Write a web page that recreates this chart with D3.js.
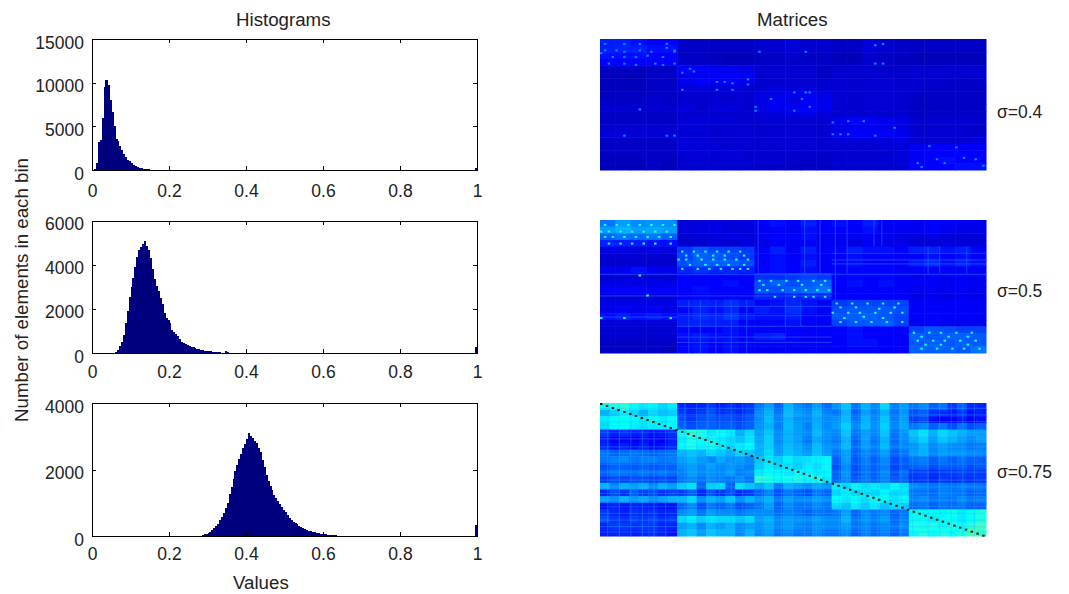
<!DOCTYPE html>
<html>
<head>
<meta charset="utf-8">
<script src="https://cdn.jsdelivr.net/npm/d3@7"></script>
<style>
  html, body { margin: 0; padding: 0; background: #fff; }
  svg { display: block; }
  text { font-family: "Liberation Sans", Arial, sans-serif; fill: #222; }
  .tick text { font-size: 17.5px; }
  .label { font-size: 18.7px; }
  .sigma { font-size: 17.5px; }
  .axis path, .axis line { stroke: #000; stroke-width: 1; fill: none; shape-rendering: crispEdges; }
</style>
</head>
<body>
<div id="chart"></div>
<script>
var xTicks = [0, 0.2, 0.4, 0.6, 0.8, 1];
var sigmaLabels = ["σ=0.4", "σ=0.5", "σ=0.75"];
var binWidth = 0.005;

// first bin edge and counts per bin
var hist1Start = 0.005;
var hist1Counts = [150, 800, 3200, 3400, 6000, 9500, 10300, 9700, 8000, 6600, 5000, 3600, 3300, 2800, 2300, 1800, 1500, 1200, 1000, 800, 600, 450, 350, 280, 200, 160, 120, 90, 70, 50, 30, 20];
var hist1Ticks = [0, 5000, 10000, 15000];
var hist1Max = 15000;
var hist1Last = 200;

var hist2Start = 0.055;
var hist2Counts = [20, 50, 130, 300, 480, 800, 1350, 1900, 2550, 3000, 3400, 3900, 4350, 4650, 4780, 4950, 5070, 4850, 4650, 4300, 3800, 3350, 3050, 2800, 2500, 2200, 1800, 1600, 1500, 1350, 1050, 950, 850, 780, 650, 520, 450, 400, 350, 310, 280, 250, 220, 190, 170, 150, 130, 110, 100, 80, 70, 60, 50, 45, 40, 30, 20, 20, 70, 60, 10];
var hist2Ticks = [0, 2000, 4000, 6000];
var hist2Max = 6000;
var hist2Last = 250;

var hist3Start = 0.285;
var hist3Counts = [30, 50, 75, 100, 120, 170, 230, 290, 370, 480, 570, 700, 850, 1000, 1250, 1480, 1720, 1950, 2130, 2320, 2480, 2640, 2780, 2920, 3100, 3020, 2950, 2860, 2790, 2660, 2540, 2300, 2080, 1830, 1650, 1500, 1370, 1240, 1150, 1050, 970, 880, 790, 710, 640, 550, 490, 430, 390, 350, 310, 280, 250, 220, 190, 160, 140, 125, 110, 95, 80, 70, 60, 55, 50, 40, 35, 30, 25, 20, 15];
var hist3Ticks = [0, 2000, 4000];
var hist3Max = 4000;
var hist3Last = 320;

// matrices, coarse reading of the image in hundredths of the jet range
var matrix1 = [
  [15,15,14,13,13, 7,7,7,7,7, 8,8,9,8,8, 7,7,9,8,7, 7,7,7,7,7],
  [15,16,15,14,14, 7,7,7,7,7, 8,8,9,8,8, 7,7,9,8,7, 7,7,7,7,7],
  [14,14,14,13,13, 7,7,6,6,6, 7,7,8,7,7, 6,6,8,7,7, 6,6,6,6,6],
  [13,13,12,12,12, 7,7,7,6,6, 7,7,7,7,7, 6,6,8,7,6, 6,6,6,6,6],
  [7,7,7,7,7, 13,12,11,11,10, 8,8,8,8,7, 8,8,8,7,7, 8,8,8,8,8],
  [6,6,6,7,7, 11,11,12,12,11, 8,8,8,8,7, 8,8,8,8,8, 8,8,8,8,8],
  [6,6,6,7,7, 11,12,12,13,11, 8,8,8,8,8, 8,8,8,8,8, 8,8,8,7,8],
  [6,6,6,7,7, 9,9,9,9,8, 8,9,9,9,8, 8,8,8,8,8, 8,7,7,7,7],
  [6,7,7,7,7, 8,8,8,8,8, 10,10,11,11,10, 8,8,8,8,8, 7,7,7,7,7],
  [7,7,7,8,7, 8,8,8,8,8, 10,11,10,12,11, 8,8,8,8,8, 7,7,7,7,7],
  [8,8,8,8,8, 9,8,9,9,8, 10,11,11,12,11, 8,8,8,8,8, 7,7,7,7,7],
  [7,7,7,7,7, 8,8,8,8,8, 9,9,10,10,9, 8,8,8,8,8, 7,7,7,7,7],
  [7,7,7,7,7, 9,9,9,9,8, 8,8,8,8,8, 11,12,12,11,10, 8,8,8,8,8],
  [8,8,8,8,8, 9,9,8,8,8, 8,8,8,8,8, 10,11,11,11,10, 8,8,8,8,7],
  [9,9,9,9,9, 8,8,8,8,8, 8,8,8,8,8, 11,12,12,12,11, 8,8,8,8,8],
  [7,7,7,7,7, 9,9,8,8,8, 8,8,8,8,8, 9,9,9,9,10, 8,8,8,8,9],
  [7,7,7,7,7, 9,9,9,8,8, 8,8,8,8,8, 8,8,8,9,9, 11,12,12,12,12],
  [7,7,7,7,7, 9,9,9,9,8, 8,8,8,8,8, 8,8,8,8,9, 12,12,13,13,12],
  [6,6,6,7,6, 8,8,8,8,8, 8,8,7,7,7, 8,8,8,8,9, 12,13,14,13,13],
  [6,6,6,7,6, 8,8,8,8,8, 7,7,7,7,7, 8,8,8,8,8, 13,13,13,14,14]
];

var matrix2 = [
  [24,28,26,27,26, 9,9,10,9,10, 12,14,12,15,12, 14,13,15,12,12, 11,13,12,11,11],
  [28,30,28,29,28, 9,9,10,9,9, 11,13,11,14,12, 12,12,14,11,11, 11,12,11,10,10],
  [22,24,23,24,22, 8,9,9,10,9, 11,13,12,14,11, 11,11,12,11,10, 9,10,9,9,9],
  [16,15,15,14,14, 8,8,9,8,9, 10,12,11,13,11, 11,10,12,10,10, 9,9,9,9,9],
  [10,10,9,10,9, 18,21,19,19,18, 12,15,12,15,12, 13,15,14,14,13, 15,16,14,15,13],
  [8,8,8,8,8, 19,22,21,20,18, 12,14,12,14,12, 12,14,13,13,12, 13,14,13,14,12],
  [8,8,8,8,8, 20,22,22,22,20, 12,14,13,15,12, 13,14,13,13,13, 15,17,14,16,14],
  [11,11,14,11,11, 16,17,16,16,15, 13,14,13,14,12, 12,13,13,13,12, 12,12,12,12,12],
  [8,9,8,9,8, 12,13,12,13,12, 17,17,18,19,18, 12,13,12,13,12, 11,12,11,12,11],
  [10,10,10,10,10, 13,13,13,14,13, 20,22,20,21,22, 13,14,13,14,12, 12,12,11,12,11],
  [12,12,13,12,12, 13,14,13,13,13, 20,20,22,23,24, 12,13,13,13,12, 11,11,11,11,11],
  [9,9,9,9,9, 12,13,12,13,12, 16,15,16,16,16, 12,12,12,12,12, 10,11,10,11,10],
  [10,10,10,10,10, 15,16,15,17,15, 13,14,16,14,13, 18,19,19,19,19, 12,12,12,12,12],
  [11,12,11,12,10, 13,15,14,16,13, 15,14,17,14,13, 20,21,21,21,20, 12,13,12,12,12],
  [14,15,14,15,14, 15,17,16,18,15, 14,14,15,13,13, 21,22,22,21,19, 12,13,12,12,12],
  [9,9,9,9,9, 15,16,15,15,13, 13,13,14,12,12, 19,21,21,22,19, 11,12,11,11,11],
  [8,8,8,8,8, 13,13,13,14,12, 13,12,13,12,12, 13,14,13,13,12, 19,21,20,19,19],
  [8,8,8,8,8, 14,15,14,14,13, 15,16,13,12,12, 13,14,13,13,12, 22,21,22,22,21],
  [7,7,7,7,7, 13,14,13,14,13, 13,13,13,12,12, 13,14,14,13,12, 21,22,21,22,21],
  [7,7,7,7,6, 13,14,13,14,12, 12,12,12,12,12, 12,13,13,12,12, 22,22,22,21,24]
];

var matrix3 = [
  [38,40,42,38,36,37,34,36, 16,15,16,18,15,17,16,18, 24,28,22,30,26,24,28,23, 27,32,24,30,26,34,25,28, 24,26,22,24,18,22,16,16],
  [30,33,36,34,30,34,32,33, 18,16,18,20,17,18,16,19, 26,30,24,31,28,26,30,25, 24,30,22,28,25,30,24,27, 20,22,18,17,15,18,14,15],
  [36,38,38,37,36,38,36,38, 20,18,20,21,20,20,19,21, 26,31,25,30,27,26,29,26, 27,31,24,30,26,32,25,28, 18,20,14,13,13,15,12,14],
  [34,37,38,36,35,36,36,37, 22,20,22,22,21,22,20,22, 27,30,25,31,28,25,30,26, 28,33,26,31,27,33,26,29, 24,26,22,24,20,24,20,22],
  [18,15,17,15,16,14,15,17, 38,42,40,36,38,36,30,34, 28,32,26,30,28,26,31,27, 26,32,24,28,26,32,24,27, 32,35,30,34,32,30,28,28],
  [15,12,13,12,14,12,13,15, 36,40,38,37,36,34,32,35, 29,33,26,30,28,24,29,26, 24,30,22,28,24,30,23,26, 30,33,28,32,30,28,26,28],
  [16,14,15,13,15,13,14,16, 38,40,37,39,36,34,36,38, 30,33,27,31,29,26,31,27, 26,31,23,28,25,31,24,26, 27,30,26,28,26,26,24,25],
  [24,22,23,24,23,22,23,24, 30,32,30,34,32,30,34,32, 30,34,28,32,30,28,32,28, 24,28,22,26,24,28,22,24, 28,30,26,28,27,27,26,26],
  [24,25,26,24,25,25,24,25, 28,30,28,26,29,27,28,26, 32,35,33,36,34,35,36,37, 22,28,21,25,22,26,20,22, 24,25,22,24,22,24,22,22],
  [20,22,22,21,22,21,22,22, 26,28,26,28,26,27,26,25, 33,36,34,35,33,36,35,38, 20,26,20,24,22,25,19,21, 22,23,20,22,21,22,20,21],
  [22,24,24,23,24,23,24,23, 25,28,26,27,26,28,25,26, 36,38,37,36,38,37,36,37, 22,27,20,24,22,26,20,23, 18,19,17,18,18,19,18,18],
  [18,20,19,20,20,19,20,19, 24,26,24,26,25,24,26,24, 42,40,38,39,40,38,39,36, 22,26,21,24,22,25,21,22, 17,18,16,18,17,18,17,18],
  [30,26,30,28,30,26,30,28, 33,35,22,33,34,22,35,32, 29,32,24,30,28,26,29,27, 36,34,37,35,36,34,37,35, 26,25,24,25,24,25,24,24],
  [16,20,17,22,18,20,17,19, 18,22,16,20,17,20,16,18, 22,25,20,24,22,20,24,22, 34,36,34,35,34,37,34,35, 24,24,23,25,24,24,22,23],
  [28,26,30,27,29,26,28,30, 30,34,26,30,28,32,26,30, 27,30,24,28,26,26,28,26, 38,36,38,35,37,38,35,37, 25,26,24,25,24,26,24,25],
  [14,16,14,16,15,15,14,14, 22,26,20,24,22,24,20,22, 24,28,22,26,24,24,26,24, 34,32,36,33,36,32,34,33, 23,24,22,24,23,24,22,22],
  [18,16,15,17,16,17,15,16, 26,28,24,28,26,26,24,26, 26,26,23,25,24,22,24,23, 24,28,22,26,24,26,22,24, 38,37,38,37,39,36,38,40],
  [20,18,17,19,18,19,17,18, 34,36,33,35,34,34,32,34, 28,30,26,28,27,26,28,26, 26,30,24,27,25,28,23,25, 38,38,36,38,38,36,38,40],
  [16,18,18,17,18,18,16,16, 28,30,26,30,28,30,26,28, 27,29,26,28,26,25,27,26, 26,28,24,26,24,26,24,26, 40,39,40,38,40,38,42,44],
  [15,16,16,15,16,17,15,14, 30,32,28,32,30,30,26,30, 26,28,24,26,24,24,26,24, 24,26,22,25,23,25,22,24, 38,40,38,40,38,40,44,42]
];

// bright single elements as [column, row] of the 100x100 matrix
var spots1 = [[1,3],[6,3],[10,3],[17,3],[1,8],[4,8],[6,9],[10,8],[13,9],[17,6],[19,9],[0,10],[3,13],[6,13],[9,13],[12,12],[16,13],[19,8],[2,18],[6,18],[9,19],[14,18],[19,18],[16,19],
  [21,25],[23,22],[24,24],[30,32],[32,32],[34,33],[38,30],[30,38],[34,38],[38,34],[21,38],
  [50,40],[53,40],[54,40],[44,45],[52,45],[40,51],[40,54],[54,51],[50,54],
  [10,53],[6,73],[17,73],[19,73],[71,4],[73,3],[71,18],[73,18],[53,9],[41,9],[60,63],[64,62],[68,62],[60,72],[62,72],[64,72],[71,73],[76,67],
  [82,94],[85,81],[92,82],[87,91],[89,94],[97,91],[99,96],[83,97],[94,90]];
var spots2 = [[1,3],[4,3],[7,3],[10,3],[13,3],[16,3],[19,3],[0,8],[2,8],[5,8],[8,8],[11,8],[14,8],[17,8],[1,12],[3,12],[6,12],[9,12],[12,12],[15,12],[18,12],[2,17],[5,17],[8,17],[11,17],[14,17],[18,17],
  [21,23],[24,23],[27,23],[30,23],[33,23],[36,23],[22,26],[25,26],[29,26],[32,26],[37,26],[20,29],[22,29],[26,29],[29,29],[32,29],[35,29],[38,29],[23,33],[27,33],[30,33],[33,33],[37,33],[21,36],[25,36],[28,36],[31,36],[34,36],[36,36],[38,36],
  [41,45],[44,45],[48,45],[51,45],[55,45],[58,45],[42,48],[46,48],[52,48],[57,48],[41,52],[43,52],[47,52],[50,52],[53,52],[56,52],[59,52],[45,57],[50,57],[53,57],[55,57],[58,57],
  [61,62],[65,62],[69,62],[73,62],[77,62],[62,65],[66,65],[72,66],[76,65],[60,69],[64,69],[67,69],[71,69],[75,69],[78,69],[63,73],[68,72],[73,73],[62,76],[66,76],[70,76],[74,76],[78,76],
  [81,84],[85,84],[88,84],[92,84],[96,84],[83,87],[90,87],[95,87],[82,90],[86,90],[89,90],[93,90],[97,90],[84,93],[88,93],[95,93],[83,96],[87,96],[91,96],[94,96],[98,96],
  [10,41],[6,73],[18,73],[0,73],[12,56]];
var spots3 = [];
var diagonal3 = d3.range(0, 100, 1.5);

// lighter lines in the matrices as [index, from, to]
var rowLines2 = [[41,0,20],[57,0,20],[73,0,20],[41,20,100],[57,20,60],[65,20,60],[72,20,60],[80,20,60],[88,20,60],[92,20,60],[25,60,100],[30,60,100],[33,60,100]];
var colLines2 = [[41,0,40],[53,0,40],[57,0,40],[61,0,60],[64,0,40],[71,0,20],[73,0,20],[85,20,40],[88,20,40],[95,20,40],[23,60,100],[26,60,100],[30,60,100],[34,60,100],[38,60,100],[48,60,80],[52,60,80]];
var rowLines3 = [4,9,14,22,27,33,38,46,52,58,63,68,73,78,83,88,93,97].map(function(i) { return [i, 0, 100]; });
var colLines3 = [2,5,8,11,14,17,22,25,28,31,34,37,42,45,47,50,53,56,58,62,64,67,69,72,75,78,81,85,88,91,94,97].map(function(i) { return [i, 0, 100]; });

var width = 1069, height = 594;
var svg = d3.select("#chart").append("svg")
  .attr("width", width)
  .attr("height", height);

var navy = "#00007f";
var x = d3.scaleLinear().domain([0, 1]).range([92, 477]);

function drawHistogram(top, bottom, start, counts, yTicks, yMax, last, labelPad) {
  var y = d3.scaleLinear().domain([0, yMax]).range([bottom, top]);
  var g = svg.append("g");

  var bins = counts.map(function(c, i) { return { x0: start + i * binWidth, count: c }; });
  bins.push({ x0: 1 - binWidth, count: last });

  g.append("g").attr("shape-rendering", "crispEdges").selectAll("rect")
    .data(bins)
    .enter().append("rect")
    .attr("x", function(d) { return x(d.x0); })
    .attr("width", function(d) { return x(d.x0 + binWidth) - x(d.x0) + 0.5; })
    .attr("y", function(d) { return y(d.count); })
    .attr("height", function(d) { return bottom - y(d.count); })
    .attr("fill", navy);

  var tickLen = 4;

  g.append("g").attr("class", "axis")
    .attr("transform", "translate(0," + bottom + ")")
    .call(d3.axisBottom(x).tickValues(xTicks).tickFormat(function(d) { return d; })
      .tickSizeInner(-tickLen).tickSizeOuter(0).tickPadding(labelPad));

  g.append("g").attr("class", "axis")
    .attr("transform", "translate(0," + top + ")")
    .call(d3.axisTop(x).tickValues(xTicks).tickFormat("")
      .tickSizeInner(-tickLen).tickSizeOuter(0));

  g.append("g").attr("class", "axis")
    .attr("transform", "translate(92,0)")
    .call(d3.axisLeft(y).tickValues(yTicks).tickFormat(function(d) { return d; })
      .tickSizeInner(-tickLen).tickSizeOuter(0).tickPadding(8))
    .selectAll("text").attr("dy", "0.52em");

  g.append("g").attr("class", "axis")
    .attr("transform", "translate(477,0)")
    .call(d3.axisRight(y).tickValues(yTicks).tickFormat("")
      .tickSizeInner(-tickLen).tickSizeOuter(0));
}

drawHistogram(39, 170, hist1Start, hist1Counts, hist1Ticks, hist1Max, hist1Last, 14.5);
drawHistogram(220.5, 353, hist2Start, hist2Counts, hist2Ticks, hist2Max, hist2Last, 12.5);
drawHistogram(403, 536, hist3Start, hist3Counts, hist3Ticks, hist3Max, hist3Last, 11.5);

// jet colormap, values in hundredths
var jet = d3.scaleLinear()
  .domain([0, 12.5, 37.5, 62.5, 87.5, 100])
  .range(["#00007f", "#0000ff", "#00ffff", "#ffff00", "#ff0000", "#7f0000"]);

var defs = svg.append("defs");
defs.append("filter").attr("id", "soft")
  .attr("x", "-2%").attr("y", "-2%").attr("width", "104%").attr("height", "104%")
  .append("feGaussianBlur").attr("stdDeviation", 0.6);

var matX = d3.scaleLinear().domain([0, 100]).range([600, 986]);

function drawMatrix(top, bottom, rows, spots, spotValue, diagonal, rowLines, colLines, lineColor, lineOpacity) {
  var g = svg.append("g").attr("filter", "url(#soft)");
  var colBand = d3.scaleBand().domain(d3.range(rows[0].length)).range([600, 986]);
  var rowBand = d3.scaleBand().domain(d3.range(rows.length)).range([top, bottom]);
  var matY = d3.scaleLinear().domain([0, 100]).range([top, bottom]);

  rows.forEach(function(row, r) {
    g.append("g").selectAll("rect")
      .data(row)
      .enter().append("rect")
      .attr("x", function(d, c) { return colBand(c); })
      .attr("y", rowBand(r))
      .attr("width", colBand.bandwidth() + 0.5)
      .attr("height", rowBand.bandwidth() + 0.5)
      .attr("fill", function(d) { return jet(d); });
  });

  g.append("g").selectAll("line")
    .data(rowLines)
    .enter().append("line")
    .attr("x1", function(d) { return matX(d[1]); })
    .attr("x2", function(d) { return matX(d[2]); })
    .attr("y1", function(d) { return matY(d[0]); })
    .attr("y2", function(d) { return matY(d[0]); })
    .attr("stroke", lineColor)
    .attr("stroke-opacity", lineOpacity)
    .attr("stroke-width", 1.2);

  g.append("g").selectAll("line")
    .data(colLines)
    .enter().append("line")
    .attr("x1", function(d) { return matX(d[0]); })
    .attr("x2", function(d) { return matX(d[0]); })
    .attr("y1", function(d) { return matY(d[1]); })
    .attr("y2", function(d) { return matY(d[2]); })
    .attr("stroke", lineColor)
    .attr("stroke-opacity", lineOpacity)
    .attr("stroke-width", 1.2);

  g.append("g").selectAll("rect")
    .data(spots)
    .enter().append("rect")
    .attr("x", function(d) { return matX(d[0]); })
    .attr("y", function(d) { return matY(d[1]); })
    .attr("width", 2.5)
    .attr("height", 2)
    .attr("fill", jet(spotValue));

  g.append("g").selectAll("rect")
    .data(diagonal)
    .enter().append("rect")
    .attr("x", function(d) { return matX(d); })
    .attr("y", function(d) { return matY(d); })
    .attr("width", 2.5)
    .attr("height", 2)
    .attr("fill", "#1c2400");
}

drawMatrix(39, 170, matrix1, spots1, 26, [], [], [], "#fff", 0);
drawMatrix(220, 353, matrix2, spots2, 40, [], rowLines2, colLines2, "#2060ff", 0.55);
drawMatrix(403, 536, matrix3, spots3, 0, diagonal3, rowLines3, colLines3, "#30b0ff", 0.3);

// titles and labels
svg.append("text").attr("class", "label").attr("x", 236).attr("y", 26).text("Histograms");
svg.append("text").attr("class", "label").attr("x", 757).attr("y", 26).text("Matrices");
svg.append("text").attr("class", "label").attr("x", 233).attr("y", 589).text("Values");
svg.append("text").attr("class", "label")
  .attr("transform", "translate(28,290) rotate(-90)")
  .attr("text-anchor", "middle").text("Number of elements in each bin");

var sigmaY = [118, 297, 478];
sigmaLabels.forEach(function(s, i) {
  svg.append("text").attr("class", "sigma").attr("x", 997).attr("y", sigmaY[i]).text(s);
});
</script>
</body>
</html>
